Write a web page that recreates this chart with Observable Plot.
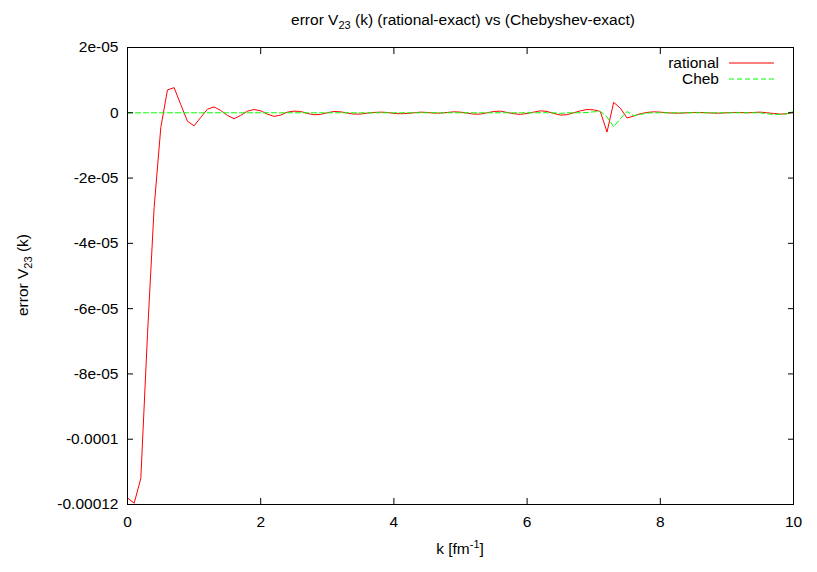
<!DOCTYPE html>
<html><head><meta charset="utf-8">
<script src="https://cdn.jsdelivr.net/npm/d3@7"></script>
<script src="https://cdn.jsdelivr.net/npm/@observablehq/plot@0.6"></script>
<style>body{margin:0;background:#fff}#chart{width:817px;height:572px}</style>
</head><body><div id="chart"></div>
<script>
const k = [0.0,0.1,0.2,0.3,0.4,0.5,0.6,0.7,0.8,0.9,
1.0,1.1,1.2,1.3,1.4,1.5,1.6,1.7,1.8,1.9,
2.0,2.1,2.2,2.3,2.4,2.5,2.6,2.7,2.8,2.9,
3.0,3.1,3.2,3.3,3.4,3.5,3.6,3.7,3.8,3.9,
4.0,4.1,4.2,4.3,4.4,4.5,4.6,4.7,4.8,4.9,
5.0,5.1,5.2,5.3,5.4,5.5,5.6,5.7,5.8,5.9,
6.0,6.1,6.2,6.3,6.4,6.5,6.6,6.7,6.8,6.9,
7.0,7.1,7.2,7.3,7.4,7.5,7.6,7.7,7.8,7.9,
8.0,8.1,8.2,8.3,8.4,8.5,8.6,8.7,8.8,8.9,
9.0,9.1,9.2,9.3,9.4,9.5,9.6,9.7,9.8,9.9,10.0];
const rational = [-118.0e-6,-119.6e-6,-112.0e-6,-68.0e-6,-29.0e-6,-4.5e-6,7.0e-6,7.7e-6,2.5e-6,-2.6e-6,
-4.0e-6,-1.4e-6,1.1e-6,1.8e-6,0.7e-6,-0.8e-6,-1.8e-6,-0.8e-6,0.5e-6,1.0e-6,
0.6e-6,-0.4e-6,-1.1e-6,-0.7e-6,0.2e-6,0.5e-6,0.4e-6,-0.2e-6,-0.6e-6,-0.5e-6,
0.0e-6,0.4e-6,0.3e-6,-0.1e-6,-0.4e-6,-0.4e-6,-0.1e-6,0.1e-6,0.2e-6,0.1e-6,
-0.2e-6,-0.3e-6,-0.2e-6,0.0e-6,0.2e-6,0.1e-6,-0.1e-6,-0.1e-6,0.1e-6,0.3e-6,
0.2e-6,-0.1e-6,-0.4e-6,-0.4e-6,0.0e-6,0.4e-6,0.5e-6,0.1e-6,-0.3e-6,-0.5e-6,
-0.2e-6,0.2e-6,0.6e-6,0.4e-6,-0.2e-6,-0.7e-6,-0.6e-6,0.0e-6,0.6e-6,1.0e-6,
0.9e-6,0.4e-6,-5.9e-6,3.2e-6,1.4e-6,-1.6e-6,-1.0e-6,-0.3e-6,0.1e-6,0.3e-6,
0.2e-6,0.0e-6,-0.1e-6,-0.1e-6,0.0e-6,0.1e-6,0.1e-6,0.0e-6,-0.1e-6,-0.1e-6,
0.0e-6,0.1e-6,0.1e-6,0.0e-6,0.1e-6,0.2e-6,0.0e-6,-0.2e-6,-0.4e-6,-0.3e-6,0.2e-6];
const cheb = [0,0,0,0,0,0,0,0,0,0,
0,0,0,0,0,0,0,0,0,0,
0,0,0,0,0,0,0,0,0,0,
0,0,0,0,0,0,0,0,0,0,
0,0,0,0,0,0,0,0,0,0,
0,0,0,0,0,0,0,0,0,0,
0,0,0,0,0,-0.2e-6,0,0,0,0.1e-6,
0.3e-6,0.4e-6,-1.3e-6,-4.3e-6,-1.8e-6,0.4e-6,-0.9e-6,-0.5e-6,-0.1e-6,0,
0,0,0,0,0,0,0,0,0,0,
0,0,0,0,0,0,-0.3e-6,-0.5e-6,-0.5e-6,-0.3e-6,0.4e-6];
const xTicks = [0,2,4,6,8,10];
const xTickLabels = ["0","2","4","6","8","10"];
const yTicks = [2e-5,0,-2e-5,-4e-5,-6e-5,-8e-5,-1e-4,-1.2e-4];
const yTickLabels = ["2e-05","0","-2e-05","-4e-05","-6e-05","-8e-05","-0.0001","-0.00012"];
const seriesNames = ["rational","Cheb"];
const seriesColors = ["#ff0000","#00ff00"];

const data = k.map((x,i)=>({k:x, rational:rational[i], cheb:cheb[i]}));
const FONT = "'Liberation Sans', Arial, Helvetica, sans-serif";

const svg = Plot.plot({
  width:817, height:572,
  marginLeft:127, marginRight:24, marginTop:47, marginBottom:68,
  style:{fontFamily:FONT, fontSize:"15.5px", color:"#000", background:"#fff", overflow:"visible"},
  x:{domain:[0,10]},
  y:{domain:[-1.2e-4,2e-5]},
  marks:[
    Plot.lineY(data,{x:"k",y:"rational",stroke:seriesColors[0],strokeWidth:1}),
    Plot.lineY(data,{x:"k",y:"cheb",stroke:seriesColors[1],strokeWidth:1,strokeDasharray:"5,3"}),
    Plot.frame({stroke:"#000",strokeWidth:1}),
    Plot.axisX(xTicks,{anchor:"bottom",tickSize:6,dy:-6,tickFormat:()=>"",label:null,stroke:"#000"}),
    Plot.axisX(xTicks,{anchor:"top",tickSize:6,dy:6,tickFormat:()=>"",label:null,stroke:"#000"}),
    Plot.axisY(yTicks,{anchor:"left",tickSize:6,dx:6,tickFormat:()=>"",label:null,stroke:"#000"}),
    Plot.axisY(yTicks,{anchor:"right",tickSize:6,dx:-6,tickFormat:()=>"",label:null,stroke:"#000"}),
    Plot.axisX(xTicks,{anchor:"bottom",tickSize:0,tickPadding:11,label:null,fill:"#000",
      tickFormat:d=>xTickLabels[xTicks.indexOf(d)]}),
    Plot.axisY(yTicks,{anchor:"left",tickSize:0,tickPadding:9,label:null,fill:"#000",
      tickFormat:d=>yTickLabels[yTicks.indexOf(d)]})
  ]
});
document.getElementById("chart").appendChild(svg);

const s = d3.select(svg);
// Title
const t = s.append("text").attr("x",463).attr("y",25).attr("text-anchor","middle")
  .attr("font-family",FONT).attr("font-size","15.5px").attr("fill","#000");
t.append("tspan").text("error V");
t.append("tspan").attr("font-size","11px").attr("dy",4).text("23");
t.append("tspan").attr("dy",-4).text(" (k) (rational-exact) vs (Chebyshev-exact)");
// X label
const xl = s.append("text").attr("x",460).attr("y",554).attr("text-anchor","middle")
  .attr("font-family",FONT).attr("font-size","15.5px").attr("fill","#000");
xl.append("tspan").text("k [fm");
xl.append("tspan").attr("font-size","11px").attr("dy",-6).text("-1");
xl.append("tspan").attr("dy",6).text("]");
// Y label
const yl = s.append("text").attr("transform","translate(28,275) rotate(-90)").attr("text-anchor","middle")
  .attr("font-family",FONT).attr("font-size","15.5px").attr("fill","#000");
yl.append("tspan").text("error V");
yl.append("tspan").attr("font-size","11px").attr("dy",4).text("23");
yl.append("tspan").attr("dy",-4).text(" (k)");
// Legend
const legY = [63,79];
seriesNames.forEach((n,i)=>{
  s.append("text").attr("x",719).attr("y",legY[i]).attr("dy","0.35em").attr("text-anchor","end")
    .attr("font-family",FONT).attr("font-size","15.5px").attr("fill","#000").text(n);
  s.append("line").attr("x1",729).attr("x2",774).attr("y1",legY[i]).attr("y2",legY[i])
    .attr("stroke",seriesColors[i]).attr("stroke-width",1)
    .attr("stroke-dasharray", i===1 ? "5,3" : null);
});
</script>
</body></html>
